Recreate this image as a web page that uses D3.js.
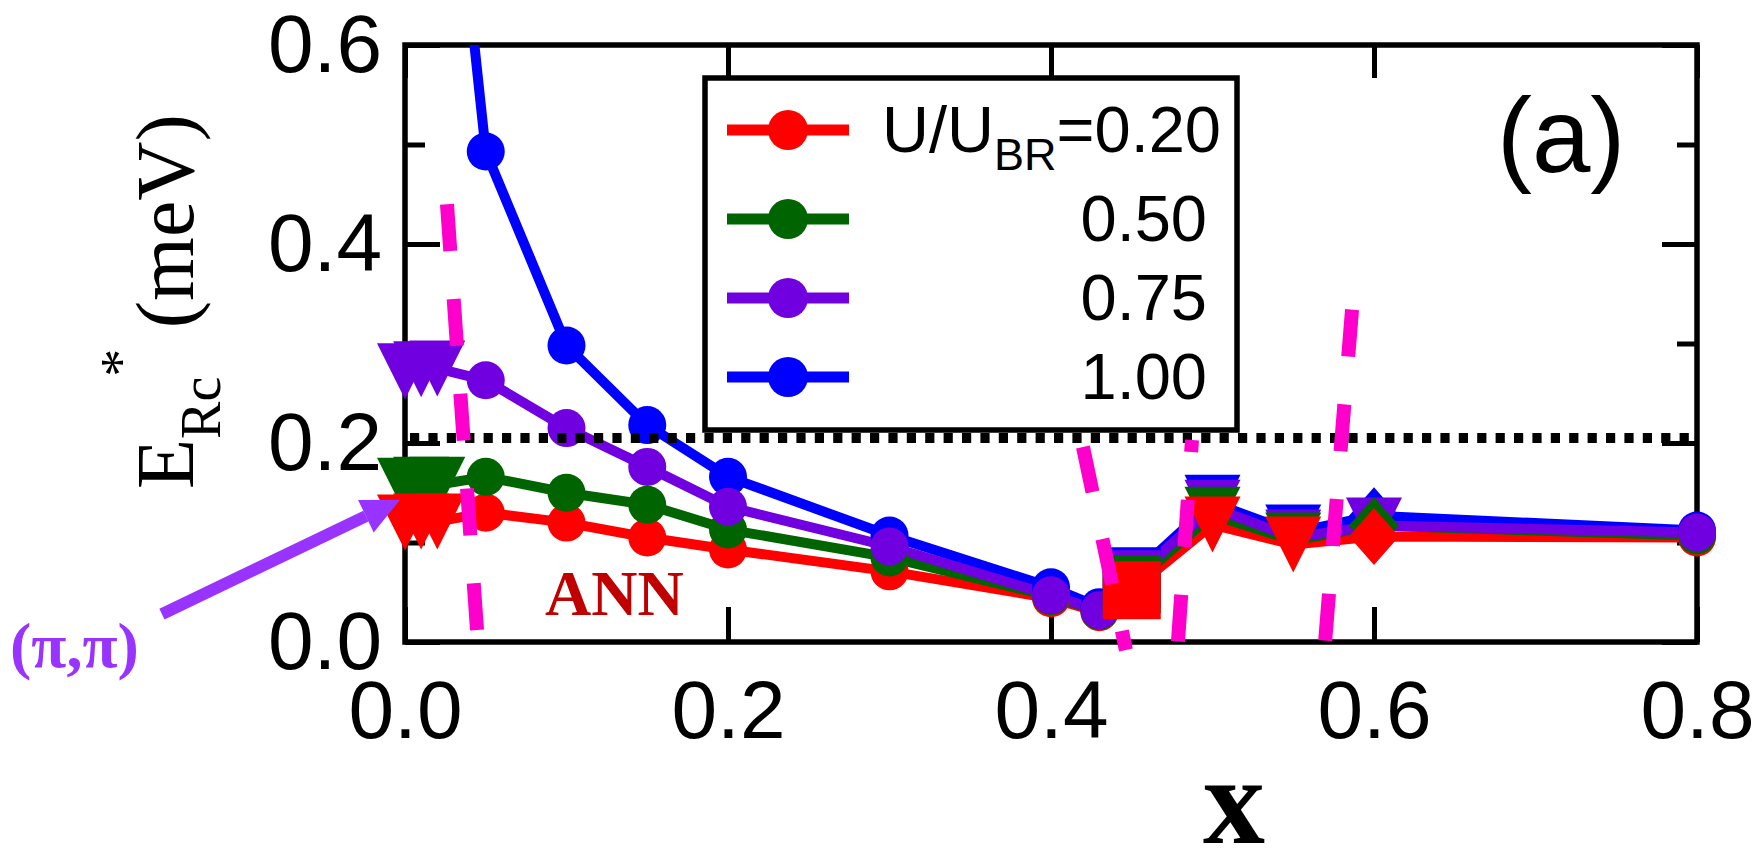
<!DOCTYPE html>
<html>
<head>
<meta charset="utf-8">
<script src="https://cdn.jsdelivr.net/npm/d3@7"></script>
<style>
  body { margin: 0; background: #fff; }
  svg { display: block; }
</style>
</head>
<body>
<div id="chart"></div>
<script>
// doping x shared by every U/U_BR series
const xValues = [0, 0.01, 0.02, 0.05, 0.1, 0.15, 0.2, 0.3, 0.4, 0.43, 0.45, 0.5, 0.55, 0.6, 0.8];
// marker at each x (tri = downward triangle)
const shapes = ["tri", "tri", "tri", "circle", "circle", "circle", "circle", "circle", "circle", "circle", "square", "tri", "tri", "diamond", "circle"];
const shapesPurple = ["tri", "tri", "tri", "circle", "circle", "circle", "circle", "circle", "circle", "circle", "square", "tri", "tri", "tri", "circle"];

const ratioLabels = ["0.20", "0.50", "0.75", "1.00"];
const seriesColors = ["#ff0000", "#006400", "#7000e0", "#0000ff"];

// E_Rc* (meV)
const redValues = [0.12, 0.121, 0.121, 0.13, 0.12, 0.105, 0.093, 0.071, 0.044, 0.03, 0.052, 0.118, 0.098, 0.106, 0.105];
const greenValues = [0.157, 0.158, 0.158, 0.166, 0.15, 0.138, 0.113, 0.085, 0.046, 0.031, 0.058, 0.128, 0.102, 0.117, 0.107];
const purpleValues = [0.272, 0.274, 0.275, 0.263, 0.215, 0.176, 0.136, 0.096, 0.047, 0.032, 0.063, 0.135, 0.105, 0.117, 0.11];
const blueValues = [null, null, 0.95, 0.493, 0.298, 0.218, 0.166, 0.107, 0.055, 0.035, 0.066, 0.14, 0.11, 0.127, 0.112];

const xTicks = [0, 0.2, 0.4, 0.6, 0.8];
const yTicks = [0, 0.2, 0.4, 0.6];
const yMinorTicks = [0.1, 0.3, 0.5];
const dottedLevel = 0.205;

// magenta dashed boundaries, [x, E] end points
const boundaries = [
  { from: [0.026, 0.44], to: [0.0446, 0.012], dash: "47 48", offset: 0 },
  { from: [0.4198, 0.196], to: [0.4464, -0.008], dash: "46 48", offset: 0 },
  { from: [0.4873, 0.203], to: [0.4786, 0.0], dash: "47 48", offset: 35 },
  { from: [0.5864, 0.334], to: [0.5697, 0.0], dash: "47 48", offset: 0 }
];
const arrowTail = [-0.1505, 0.028];
const arrowTip = [-0.003, 0.143];

const width = 1760;
const height = 857;

const svg = d3.select("#chart").append("svg")
  .attr("width", width)
  .attr("height", height);

const x = d3.scaleLinear().domain([0, 0.8]).range([405, 1697]);
const y = d3.scaleLinear().domain([0, 0.6]).range([642, 45]);

const sansFont = "'Liberation Sans', Arial, sans-serif";
const serifFont = "'Liberation Serif', 'Times New Roman', serif";

// Axes (ticks point inward)
function styleAxis(g) {
  g.select(".domain").remove();
  g.selectAll(".tick line").attr("stroke", "#000").attr("stroke-width", 5);
  g.selectAll(".tick text")
    .attr("fill", "#000")
    .style("font-family", sansFont)
    .style("font-size", "82px");
}

svg.append("g")
  .attr("transform", `translate(0,${y(0)})`)
  .call(d3.axisBottom(x).tickValues(xTicks).tickSizeInner(-35).tickSizeOuter(0)
    .tickPadding(38).tickFormat(d3.format(".1f")))
  .call(styleAxis);

svg.append("g")
  .attr("transform", `translate(0,${y(0.6)})`)
  .call(d3.axisTop(x).tickValues(xTicks).tickSizeInner(-33).tickSizeOuter(0).tickFormat(""))
  .call(styleAxis);

svg.append("g")
  .attr("transform", `translate(${x(0)},0)`)
  .call(d3.axisLeft(y).tickValues(yTicks).tickSizeInner(-35).tickSizeOuter(0)
    .tickPadding(23).tickFormat(d3.format(".1f")))
  .call(styleAxis);

svg.append("g")
  .attr("transform", `translate(${x(0)},0)`)
  .call(d3.axisLeft(y).tickValues(yMinorTicks).tickSizeInner(-20).tickSizeOuter(0).tickFormat(""))
  .call(styleAxis);

svg.append("g")
  .attr("transform", `translate(${x(0.8)},0)`)
  .call(d3.axisRight(y).tickValues(yTicks).tickSizeInner(-35).tickSizeOuter(0).tickFormat(""))
  .call(styleAxis);

svg.append("g")
  .attr("transform", `translate(${x(0.8)},0)`)
  .call(d3.axisRight(y).tickValues(yMinorTicks).tickSizeInner(-20).tickSizeOuter(0).tickFormat(""))
  .call(styleAxis);

// frame
svg.append("rect")
  .attr("x", x(0)).attr("y", y(0.6))
  .attr("width", x(0.8) - x(0)).attr("height", y(0) - y(0.6))
  .attr("fill", "none").attr("stroke", "#000").attr("stroke-width", 5.5);

// Data
svg.append("clipPath").attr("id", "topclip")
  .append("rect").attr("x", 0).attr("y", y(0.6)).attr("width", width).attr("height", height);

const series = [
  { values: redValues, color: seriesColors[0], shapes: shapes },
  { values: greenValues, color: seriesColors[1], shapes: shapes },
  { values: blueValues, color: seriesColors[3], shapes: shapes },
  { values: purpleValues, color: seriesColors[2], shapes: shapesPurple }
];
series.forEach((s) => {
  s.points = xValues.map((xv, i) => ({ x: xv, v: s.values[i], shape: s.shapes[i] }))
    .filter((d) => d.v != null);
});

const dataG = svg.append("g").attr("clip-path", "url(#topclip)");

const line = d3.line().x((d) => x(d.x)).y((d) => y(d.v));

dataG.selectAll("path.series")
  .data(series)
  .join("path")
  .attr("class", "series")
  .attr("d", (s) => line(s.points))
  .attr("fill", "none")
  .attr("stroke", (s) => s.color)
  .attr("stroke-width", 10)
  .attr("stroke-linejoin", "round");

function markerPath(type) {
  if (type === "circle") return d3.symbol(d3.symbolCircle, Math.PI * 19 * 19)();
  if (type === "square") return d3.symbol(d3.symbolSquare, 58 * 58)();
  if (type === "diamond") return "M0,-28.5L25,0L0,28.5L-25,0Z";
  return "M-28,-28L28,-28L0,28Z";
}

// circles first (red, green, blue, purple), other symbols on top (blue, purple, green, red)
series.forEach((s) => {
  dataG.append("g").selectAll("path")
    .data(s.points.filter((d) => d.shape === "circle"))
    .join("path")
    .attr("transform", (d) => `translate(${x(d.x)},${y(d.v)})`)
    .attr("d", (d) => markerPath(d.shape))
    .attr("fill", s.color);
});
[2, 3, 1, 0].forEach((k) => {
  const s = series[k];
  dataG.append("g").selectAll("path")
    .data(s.points.filter((d) => d.shape !== "circle"))
    .join("path")
    .attr("transform", (d) => `translate(${x(d.x)},${y(d.v)})`)
    .attr("d", (d) => markerPath(d.shape))
    .attr("fill", s.color);
});

// dotted reference level
svg.append("line")
  .attr("x1", x(0) + 5).attr("x2", x(0.8))
  .attr("y1", y(dottedLevel)).attr("y2", y(dottedLevel))
  .attr("stroke", "#000").attr("stroke-width", 10)
  .attr("stroke-dasharray", "9.2 9.2");

// magenta dashed boundaries
svg.append("g").selectAll("line")
  .data(boundaries)
  .join("line")
  .attr("x1", (b) => x(b.from[0])).attr("y1", (b) => y(b.from[1]))
  .attr("x2", (b) => x(b.to[0])).attr("y2", (b) => y(b.to[1]))
  .attr("stroke", "#ff00cc")
  .attr("stroke-width", 14)
  .attr("stroke-dasharray", (b) => b.dash)
  .attr("stroke-dashoffset", (b) => b.offset);

// Legend
const legend = svg.append("g");
legend.append("rect")
  .attr("x", 705).attr("y", 78).attr("width", 532).attr("height", 352)
  .attr("fill", "#fff").attr("stroke", "#000").attr("stroke-width", 5.5);

const legendRows = [130, 219, 298, 377];
ratioLabels.forEach((lab, i) => {
  const ly = legendRows[i];
  legend.append("line")
    .attr("x1", 727).attr("x2", 849).attr("y1", ly).attr("y2", ly)
    .attr("stroke", seriesColors[i]).attr("stroke-width", 11);
  legend.append("circle")
    .attr("cx", 788).attr("cy", ly).attr("r", 20)
    .attr("fill", seriesColors[i]);
  const t = legend.append("text")
    .attr("x", i === 0 ? 1221 : 1207)
    .attr("y", ly + 22)
    .attr("text-anchor", "end")
    .style("font-family", sansFont)
    .style("font-size", "65px");
  if (i === 0) {
    t.append("tspan").text("U/U");
    t.append("tspan").attr("dy", 18).style("font-size", "45px").text("BR");
    t.append("tspan").attr("dy", -18).text("=" + lab);
  } else {
    t.text(lab);
  }
});

// panel label
svg.append("text")
  .attr("x", 1497).attr("y", 172)
  .style("font-family", sansFont)
  .style("font-size", "105px")
  .text("(a)");

// ANN
svg.append("text")
  .attr("x", 545).attr("y", 615)
  .attr("fill", "#c00000")
  .style("font-family", serifFont)
  .style("font-weight", "bold")
  .style("font-size", "64px")
  .text("ANN");

// axis titles
svg.append("text")
  .attr("x", 1234).attr("y", 843)
  .attr("text-anchor", "middle")
  .style("font-family", serifFont)
  .style("font-weight", "bold")
  .style("font-size", "124px")
  .text("x");

const ylab = svg.append("text")
  .attr("transform", "translate(193,489) rotate(-90)")
  .style("font-family", serifFont)
  .style("font-size", "82px");
ylab.append("tspan").text("E");
ylab.append("tspan").attr("dy", 27).style("font-size", "56px").text("Rc");
ylab.append("tspan").attr("dy", -80).style("font-size", "56px").text("*");
ylab.append("tspan").attr("dy", 53).text(" (meV)");

// (pi,pi) arrow
const ax1 = x(arrowTail[0]), ay1 = y(arrowTail[1]);
const ax2 = x(arrowTip[0]), ay2 = y(arrowTip[1]);
const ang = Math.atan2(ay2 - ay1, ax2 - ax1);
const headLen = 38, headHalf = 18;
const bx = ax2 - headLen * Math.cos(ang), by = ay2 - headLen * Math.sin(ang);
svg.append("line")
  .attr("x1", ax1).attr("y1", ay1).attr("x2", bx).attr("y2", by)
  .attr("stroke", "#9933ff").attr("stroke-width", 12);
svg.append("path")
  .attr("d", `M${ax2},${ay2}L${bx - headHalf * Math.sin(ang)},${by + headHalf * Math.cos(ang)}L${bx + headHalf * Math.sin(ang)},${by - headHalf * Math.cos(ang)}Z`)
  .attr("fill", "#9933ff");

svg.append("text")
  .attr("x", 10).attr("y", 667)
  .attr("fill", "#9933ff")
  .style("font-family", serifFont)
  .style("font-weight", "bold")
  .style("font-size", "64px")
  .text("(π,π)");
</script>
</body>
</html>
